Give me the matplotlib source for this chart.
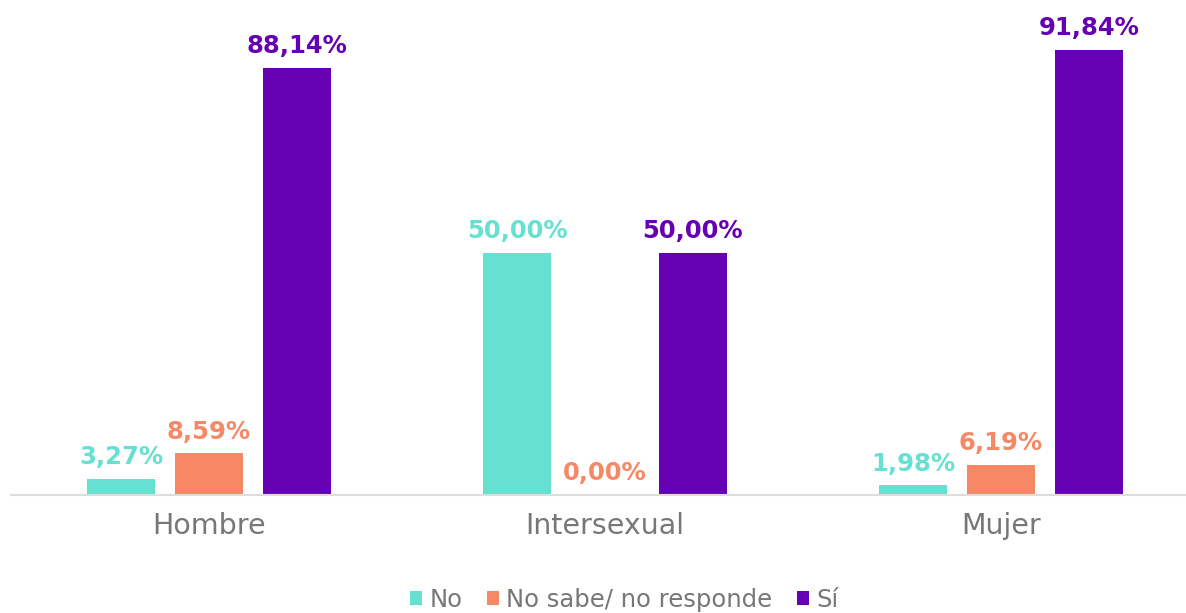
import matplotlib
matplotlib.use("Agg")
import matplotlib.pyplot as plt
import numpy as np

categories = ["Hombre", "Intersexual", "Mujer"]
series_names = ["No", "No sabe/ no responde", "Sí"]
no_vals = [3.27, 50.00, 1.98]
ns_vals = [8.59, 0.00, 6.19]
si_vals = [88.14, 50.00, 91.84]
colors = ["#66E0D0", "#F68866", "#6600B3"]

def fmt(v):
    return f"{v:.2f}".replace(".", ",") + "%"

fig = plt.figure(figsize=(11.86, 6.13), dpi=100)
ax = fig.add_axes([11/1186, 118/613, 1175/1186, 495/613])

x = np.arange(len(categories))
w = 0.172
off = 0.222
for i, (vals, c, name) in enumerate(zip([no_vals, ns_vals, si_vals], colors, series_names)):
    pos = x + (i - 1) * off
    ax.bar(pos, vals, width=w, color=c, label=name, zorder=2)
    for p, v in zip(pos, vals):
        ax.text(p, v + 2.0, fmt(v), ha="center", va="bottom", color=c,
                fontsize=17.5, fontweight="bold", family="DejaVu Sans")

ax.set_xlim(-0.5, 2.467)
ax.set_ylim(0, 102.2)
ax.set_yticks([])
ax.set_xticks(x)
ax.set_xticklabels(categories, fontsize=20.5, color="#777777", family="DejaVu Sans")
ax.tick_params(axis="x", length=0, pad=12)
for s in ["top", "right", "left"]:
    ax.spines[s].set_visible(False)
ax.spines["bottom"].set_color("#dddddd")
ax.spines["bottom"].set_linewidth(1.5)

leg = ax.legend(loc="center", bbox_to_anchor=(613/1175, -105/495), ncol=3, frameon=False,
                handlelength=0.5, handleheight=0.5, handletextpad=0.3,
                columnspacing=1.0, prop={"family": "DejaVu Sans", "size": 17.5})
for t in leg.get_texts():
    t.set_color("#777777")

fig.savefig("out.png", dpi=100)
